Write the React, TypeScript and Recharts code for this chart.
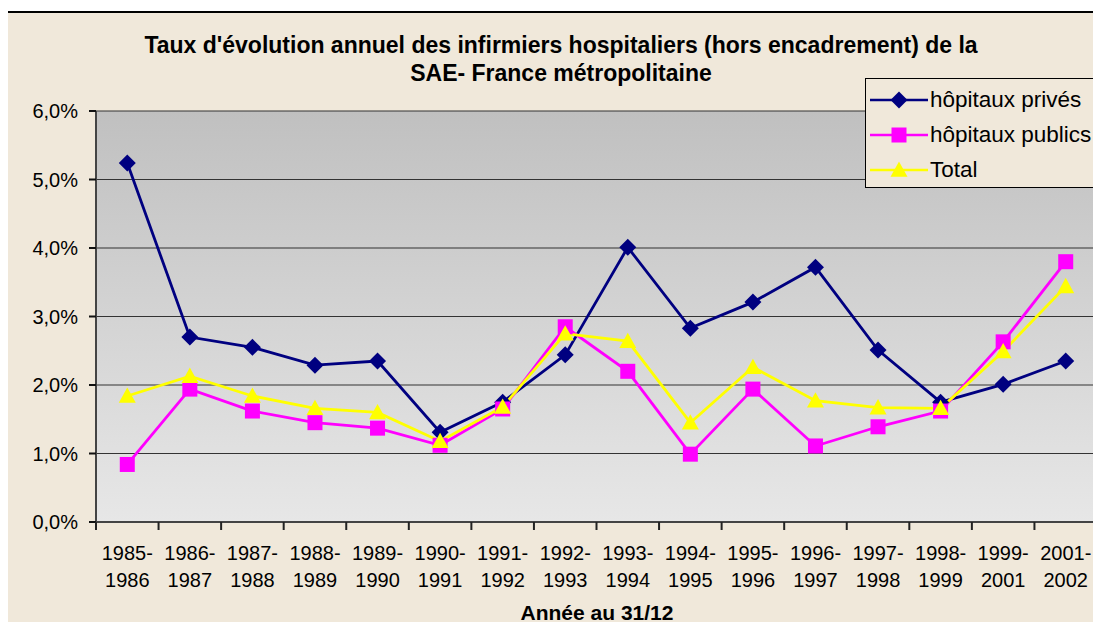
import { CartesianGrid, Line, LineChart, XAxis, YAxis } from "recharts";

const periods = [
	"1985-1986", "1986-1987", "1987-1988", "1988-1989", "1989-1990", "1990-1991",
	"1991-1992", "1992-1993", "1993-1994", "1994-1995", "1995-1996", "1996-1997",
	"1997-1998", "1998-1999", "1999-2001", "2001-2002",
];
const prives = [5.24, 2.7, 2.55, 2.29, 2.35, 1.31, 1.75, 2.44, 4.01, 2.83, 3.21, 3.72, 2.51, 1.75, 2.01, 2.35];
const publics = [0.84, 1.94, 1.62, 1.45, 1.37, 1.12, 1.65, 2.85, 2.2, 0.99, 1.94, 1.11, 1.39, 1.62, 2.63, 3.8];
const total = [1.84, 2.13, 1.84, 1.66, 1.6, 1.18, 1.68, 2.75, 2.64, 1.45, 2.26, 1.77, 1.67, 1.66, 2.49, 3.44];
const yTicks = [0, 1, 2, 3, 4, 5, 6];

const FONT = "'Liberation Sans', Arial, sans-serif";
const NAVY = "#000080";
const MAGENTA = "#FF00FF";
const YELLOW = "#FFFF00";
const BEIGE = "#F0E8DA";

const CHART_W = 1101;
const Y_AXIS_W = 96;
const RIGHT_W = 4;
// half the width of one category band, for the Excel-style boundary ticks
const HALF_BAND = (CHART_W - Y_AXIS_W - RIGHT_W) / periods.length / 2;

const data = periods.map((p, i) => ({
	period: p,
	prives: prives[i],
	publics: publics[i],
	total: total[i],
}));

function Diamond({ cx, cy, color }: { cx: number; cy: number; color: string }) {
	const r = 8.5;
	return <path d={`M${cx},${cy - r}L${cx + r},${cy}L${cx},${cy + r}L${cx - r},${cy}Z`} fill={color} />;
}
function Square({ cx, cy, color }: { cx: number; cy: number; color: string }) {
	const r = 7.5;
	return <rect x={cx - r} y={cy - r} width={r * 2} height={r * 2} fill={color} />;
}
function Triangle({ cx, cy, color }: { cx: number; cy: number; color: string }) {
	const r = 8.5;
	return <path d={`M${cx},${cy - r}L${cx + r},${cy + r * 0.8}L${cx - r},${cy + r * 0.8}Z`} fill={color} />;
}

const XTick = (props: any) => {
	const { x, y, payload, index } = props;
	const cut = payload.value.indexOf("-") + 1;
	const top = payload.value.slice(0, cut);
	const bottom = payload.value.slice(cut);
	return (
		<g>
			<path d={`M${x - HALF_BAND},${y}V${y + 8}`} stroke="#222" strokeWidth={2} fill="none" />
			{index === periods.length - 1 && (
				<path d={`M${x + HALF_BAND},${y}V${y + 8}`} stroke="#222" strokeWidth={2} fill="none" />
			)}
			<text x={x} y={y + 38} textAnchor="middle" fontSize={20} fontFamily={FONT} fill="#000">
				{top}
			</text>
			<text x={x} y={y + 65} textAnchor="middle" fontSize={20} fontFamily={FONT} fill="#000">
				{bottom}
			</text>
		</g>
	);
};

const legendItems = [
	{ label: "hôpitaux privés", color: NAVY, Mark: Diamond },
	{ label: "hôpitaux publics", color: MAGENTA, Mark: Square },
	{ label: "Total", color: YELLOW, Mark: Triangle },
];

function LegendBox() {
	return (
		<div
			style={{
				position: "absolute",
				left: 865,
				top: 78,
				width: 233,
				height: 110,
				border: "1.5px solid #000",
				background: BEIGE,
				boxSizing: "border-box",
				paddingTop: 3,
			}}
		>
			{legendItems.map(({ label, color, Mark }) => (
				<div key={label} style={{ display: "flex", alignItems: "center", height: 35 }}>
					<svg width={64} height={24}>
						<line x1={4} x2={62} y1={12} y2={12} stroke={color} strokeWidth={2.5} />
						<Mark cx={33} cy={12} color={color} />
					</svg>
					<span style={{ fontFamily: FONT, fontSize: 22.5, color: "#000", whiteSpace: "nowrap" }}>{label}</span>
				</div>
			))}
		</div>
	);
}

export default function App() {
	return (
		<div style={{ position: "relative", width: 1101, height: 630, margin: -8, overflow: "hidden", background: "#fff" }}>
			<div
				style={{
					position: "absolute",
					left: 6,
					top: 11,
					width: 1120,
					height: 640,
					border: "2px solid #000",
					background: BEIGE,
				}}
			/>
			<div
				style={{
					position: "absolute",
					left: 0,
					top: 31,
					width: 1122,
					textAlign: "center",
					fontFamily: FONT,
					fontWeight: "bold",
					fontSize: 23,
					lineHeight: "28px",
					color: "#000",
				}}
			>
				Taux d'évolution annuel des infirmiers hospitaliers (hors encadrement) de la
				<br />
				SAE- France métropolitaine
			</div>
			<div
				style={{
					position: "absolute",
					left: 0,
					top: 601,
					width: 1194,
					textAlign: "center",
					fontFamily: FONT,
					fontWeight: "bold",
					fontSize: 21,
					color: "#000",
				}}
			>
				Année au 31/12
			</div>
			<div style={{ position: "absolute", left: 0, top: 0 }}>
				<LineChart width={CHART_W} height={630} data={data} margin={{ top: 111, right: 0, bottom: 40, left: 0 }}>
					<defs>
						<linearGradient id="plotBg" x1="0" y1="0" x2="0" y2="1">
							<stop offset="0%" stopColor="#C0C0C0" />
							<stop offset="100%" stopColor="#E7E7E7" />
						</linearGradient>
					</defs>
					<CartesianGrid vertical={false} stroke="#333" strokeWidth={1.2} fill="url(#plotBg)" fillOpacity={1} />
					<XAxis
						dataKey="period"
						scale="band"
						interval={0}
						tickSize={0}
						tickMargin={0}
						tickLine={false}
						tick={<XTick />}
						axisLine={{ stroke: "#444", strokeWidth: 2 }}
						height={68}
					/>
					<XAxis
						xAxisId="top"
						orientation="top"
						dataKey="period"
						scale="band"
						height={0}
						tick={false}
						tickLine={false}
						axisLine={{ stroke: "#888", strokeWidth: 2.5 }}
					/>
					<YAxis
						domain={[0, 6]}
						ticks={yTicks}
						interval={0}
						width={Y_AXIS_W}
						tickSize={7}
						tickMargin={11}
						tickLine={{ stroke: "#111", strokeWidth: 2 }}
						axisLine={{ stroke: "#444", strokeWidth: 2 }}
						tick={{ fontSize: 20, fontFamily: FONT, fill: "#000" }}
						tickFormatter={(v: number) => `${v.toFixed(1).replace(".", ",")}%`}
					/>
					<YAxis
						yAxisId="right"
						orientation="right"
						domain={[0, 6]}
						width={RIGHT_W}
						tick={false}
						tickLine={false}
						axisLine={{ stroke: "#888", strokeWidth: 2.5 }}
					/>
					<Line
						dataKey="prives"
						name="hôpitaux privés"
						stroke={NAVY}
						strokeWidth={2.8}
						dot={(p: any) => <Diamond key={`d${p.index}`} cx={p.cx} cy={p.cy} color={NAVY} />}
						activeDot={false}
						isAnimationActive={false}
					/>
					<Line
						dataKey="publics"
						name="hôpitaux publics"
						stroke={MAGENTA}
						strokeWidth={2.8}
						dot={(p: any) => <Square key={`s${p.index}`} cx={p.cx} cy={p.cy} color={MAGENTA} />}
						activeDot={false}
						isAnimationActive={false}
					/>
					<Line
						dataKey="total"
						name="Total"
						stroke={YELLOW}
						strokeWidth={2.8}
						dot={(p: any) => <Triangle key={`t${p.index}`} cx={p.cx} cy={p.cy} color={YELLOW} />}
						activeDot={false}
						isAnimationActive={false}
					/>
				</LineChart>
			</div>
			<LegendBox />
		</div>
	);
}
